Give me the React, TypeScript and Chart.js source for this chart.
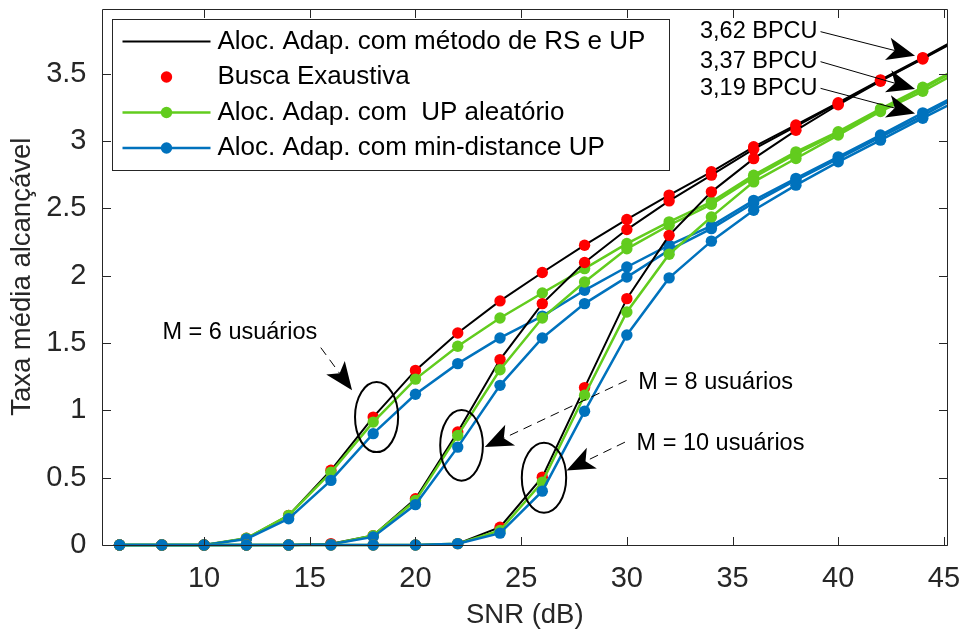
import React, { useEffect, useRef } from "react";
import { Chart, registerables } from "chart.js";

Chart.register(...registerables);

// SNR grid of the simulation (the last point lies past the axis limit and is clipped)
const snrDb = [6, 8, 10, 12, 14, 16, 18, 20, 22, 24, 26, 28, 30, 32, 34, 36, 38, 40, 42, 44, 46];

// M = 6 users
const rsUpM6 = [0, 0, 0, 0.05, 0.22, 0.555, 0.95, 1.297, 1.575, 1.813, 2.024, 2.227, 2.418, 2.599, 2.772, 2.958, 3.12, 3.285, 3.455, 3.62, 3.79];
const exhaustiveM6 = [0, 0, 0, 0.05, 0.22, 0.555, 0.95, 1.297, 1.575, 1.813, 2.024, 2.227, 2.418, 2.599, 2.772, 2.958, 3.12, 3.285, 3.455, 3.62, 3.79];
const randomUpM6 = [0, 0, 0, 0.05, 0.22, 0.54, 0.913, 1.232, 1.476, 1.686, 1.872, 2.053, 2.239, 2.4, 2.549, 2.747, 2.92, 3.07, 3.24, 3.4, 3.57];
const minDistUpM6 = [0, 0, 0, 0.045, 0.195, 0.48, 0.827, 1.12, 1.347, 1.538, 1.7, 1.892, 2.065, 2.227, 2.37, 2.56, 2.723, 2.883, 3.045, 3.21, 3.37];

// M = 8 users
const rsUpM8 = [0, 0, 0, 0, 0, 0.01, 0.07, 0.343, 0.839, 1.377, 1.793, 2.098, 2.343, 2.556, 2.747, 2.94, 3.11, 3.28, 3.45, 3.615, 3.785];
const exhaustiveM8 = [0, 0, 0, 0, 0, 0.01, 0.07, 0.343, 0.839, 1.377, 1.793, 2.098, 2.343, 2.556, 2.747, 2.94, 3.11, 3.28, 3.45, 3.615, 3.785];
const randomUpM8 = [0, 0, 0, 0, 0, 0.005, 0.07, 0.33, 0.814, 1.302, 1.686, 1.954, 2.2, 2.375, 2.53, 2.73, 2.905, 3.06, 3.23, 3.39, 3.56];
const minDistUpM8 = [0, 0, 0, 0, 0, 0.005, 0.06, 0.3, 0.727, 1.186, 1.538, 1.793, 1.99, 2.19, 2.35, 2.54, 2.71, 2.87, 3.03, 3.19, 3.36];

// M = 10 users
const rsUpM10 = [0, 0, 0, 0, 0, 0, 0, 0, 0.01, 0.132, 0.504, 1.169, 1.83, 2.3, 2.623, 2.87, 3.08, 3.27, 3.445, 3.61, 3.78];
const exhaustiveM10 = [0, 0, 0, 0, 0, 0, 0, 0, 0.01, 0.132, 0.504, 1.169, 1.83, 2.3, 2.623, 2.87, 3.08, 3.27, 3.445, 3.61, 3.78];
const randomUpM10 = [0, 0, 0, 0, 0, 0, 0, 0, 0.01, 0.108, 0.467, 1.112, 1.731, 2.16, 2.437, 2.697, 2.871, 3.045, 3.22, 3.37, 3.54];
const minDistUpM10 = [0, 0, 0, 0, 0, 0, 0, 0, 0.01, 0.088, 0.4, 0.993, 1.56, 1.984, 2.257, 2.487, 2.673, 2.846, 3.007, 3.17, 3.33];

const xTickValues = [10, 15, 20, 25, 30, 35, 40, 45];
const yTickValues = [0, 0.5, 1, 1.5, 2, 2.5, 3, 3.5];

const legendLabels = [
  "Aloc. Adap. com método de RS e UP",
  "Busca Exaustiva",
  "Aloc. Adap. com  UP aleatório",
  "Aloc. Adap. com min-distance UP",
];

// Callouts for each user group: text anchor, dashed arrow and ellipse (data units)
const groupNotes = [
  { text: "M = 6 usuários", textAt: [8.03, 1.575], from: [15.52, 1.466], to: [17.0, 1.149], ellipse: [18.16, 0.95, 1.02, 0.26] },
  { text: "M = 8 usuários", textAt: [30.54, 1.21], from: [29.99, 1.223], to: [23.28, 0.727], ellipse: [22.18, 0.74, 1.01, 0.262] },
  { text: "M = 10 usuários", textAt: [30.46, 0.752], from: [29.91, 0.764], to: [27.15, 0.554], ellipse: [26.08, 0.5, 1.05, 0.26] },
];

// Rate callouts at SNR = 44 dB
const rateNotes = [
  { textAt: [33.46, 3.813], snr: snrDb[19], value: rsUpM6[19] },
  { textAt: [33.46, 3.59], snr: snrDb[19], value: randomUpM10[19] },
  { textAt: [33.46, 3.392], snr: snrDb[19], value: minDistUpM8[19] },
];

const FONT = '"Liberation Sans", Arial, Helvetica, sans-serif';
const AXIS = "#262626";
const BLACK = "#000000";
const RED = "#FF0000";
const GREEN = "#62CC1E";
const BLUE = "#0072BD";

const groups = [
  { rs: rsUpM6, ex: exhaustiveM6, rnd: randomUpM6, md: minDistUpM6 },
  { rs: rsUpM8, ex: exhaustiveM8, rnd: randomUpM8, md: minDistUpM8 },
  { rs: rsUpM10, ex: exhaustiveM10, rnd: randomUpM10, md: minDistUpM10 },
];

const toPoints = (vals: number[]) => snrDb.map((x, i) => ({ x, y: vals[i] }));
const CLIP = { left: 10, top: 10, right: 0, bottom: 10 };

function buildDatasets() {
  const ds: any[] = [];
  groups.forEach((g) => {
    ds.push({ label: legendLabels[0], data: toPoints(g.rs), borderColor: BLACK, borderWidth: 2, pointRadius: 0, clip: CLIP });
    ds.push({ label: legendLabels[1], data: toPoints(g.ex), showLine: false, pointRadius: 5.7, pointBorderWidth: 0, pointBackgroundColor: RED, borderColor: RED, clip: CLIP });
    ds.push({ label: legendLabels[2], data: toPoints(g.rnd), borderColor: GREEN, borderWidth: 2.5, pointRadius: 5.7, pointBorderWidth: 0, pointBackgroundColor: GREEN, clip: CLIP });
    ds.push({ label: legendLabels[3], data: toPoints(g.md), borderColor: BLUE, borderWidth: 2.5, pointRadius: 5.7, pointBorderWidth: 0, pointBackgroundColor: BLUE, clip: CLIP });
  });
  ds.forEach((d, i) => {
    d.order = ds.length - i;
    d.tension = 0;
  });
  return ds;
}

function drawArrow(ctx: CanvasRenderingContext2D, fx: number, fy: number, tx: number, ty: number, dashed: boolean) {
  const L = 28;
  const W = 23;
  const notch = 0.75;
  const ang = Math.atan2(ty - fy, tx - fx);
  const c = Math.cos(ang);
  const s = Math.sin(ang);
  const tr = (u: number, v: number) => [tx + u * c - v * s, ty + u * s + v * c];
  const [nx, ny] = tr(-notch * L, 0);
  ctx.save();
  ctx.strokeStyle = BLACK;
  ctx.lineWidth = 1;
  if (dashed) ctx.setLineDash([9, 6]);
  ctx.beginPath();
  ctx.moveTo(fx, fy);
  ctx.lineTo(nx, ny);
  ctx.stroke();
  ctx.setLineDash([]);
  const p1 = tr(-L, W / 2);
  const p2 = tr(-L, -W / 2);
  ctx.fillStyle = BLACK;
  ctx.beginPath();
  ctx.moveTo(tx, ty);
  ctx.lineTo(p1[0], p1[1]);
  ctx.lineTo(nx, ny);
  ctx.lineTo(p2[0], p2[1]);
  ctx.closePath();
  ctx.fill();
  ctx.restore();
}

const overlayPlugin = {
  id: "overlay",
  afterDatasetsDraw(chart: any) {
    const { ctx, chartArea: a, scales } = chart;
    const xs = scales.x;
    const ys = scales.y;
    const px = (v: number) => xs.getPixelForValue(v);
    const py = (v: number) => ys.getPixelForValue(v);
    ctx.save();

    // axes box with inward ticks on all four sides
    ctx.strokeStyle = AXIS;
    ctx.lineWidth = 1;
    const L = Math.round(a.left) + 0.5;
    const R = Math.round(a.right) - 0.5;
    const T = Math.round(a.top) + 0.5;
    const B = Math.round(a.bottom) + 0.5;
    ctx.beginPath();
    ctx.rect(L, T, R - L, B - T);
    const tick = 8.5;
    xTickValues.forEach((v) => {
      const X = Math.round(px(v)) + 0.5;
      ctx.moveTo(X, B);
      ctx.lineTo(X, B - tick);
      ctx.moveTo(X, T);
      ctx.lineTo(X, T + tick);
    });
    yTickValues.forEach((v) => {
      const Y = Math.round(py(v)) + 0.5;
      ctx.moveTo(L, Y);
      ctx.lineTo(L + tick, Y);
      ctx.moveTo(R, Y);
      ctx.lineTo(R - tick, Y);
    });
    ctx.stroke();

    // user-group callouts
    ctx.fillStyle = BLACK;
    ctx.font = `23.5px ${FONT}`;
    ctx.textBaseline = "middle";
    ctx.textAlign = "left";
    groupNotes.forEach((n) => {
      const [ex, ey, erx, ery] = n.ellipse;
      const cx = px(ex);
      const cy = py(ey);
      const rx = Math.abs(px(ex + erx) - cx);
      const ry = Math.abs(py(ey + ery) - cy);
      ctx.save();
      ctx.strokeStyle = BLACK;
      ctx.lineWidth = 2;
      ctx.beginPath();
      ctx.ellipse(cx, cy, rx, ry, 0, 0, Math.PI * 2);
      ctx.stroke();
      ctx.restore();
      drawArrow(ctx, px(n.from[0]), py(n.from[1]), px(n.to[0]), py(n.to[1]), true);
      ctx.fillText(n.text, px(n.textAt[0]), py(n.textAt[1]));
    });

    // rate callouts pointing at the 44 dB markers
    ctx.font = `23.5px ${FONT}`;
    rateNotes.forEach((n) => {
      const label = `${n.value.toFixed(2).replace(".", ",")} BPCU`;
      const tx0 = px(n.textAt[0]);
      const ty0 = py(n.textAt[1]);
      ctx.fillText(label, tx0, ty0);
      const sx = tx0 + ctx.measureText(label).width + 3;
      const mx = px(n.snr);
      const my = py(n.value);
      const d = Math.hypot(mx - sx, my - ty0);
      const back = 8;
      const ex = mx - ((mx - sx) / d) * back;
      const ey = my - ((my - ty0) / d) * back;
      drawArrow(ctx, sx, ty0, ex, ey, false);
    });

    // legend box
    const lx = Math.round(a.left) + 10.5;
    const ly = Math.round(a.top) + 10.5;
    const lw = 557;
    const lh = 151;
    ctx.fillStyle = "#ffffff";
    ctx.fillRect(lx, ly, lw, lh);
    ctx.strokeStyle = AXIS;
    ctx.lineWidth = 1;
    ctx.strokeRect(lx, ly, lw, lh);
    const styles = [
      { color: BLACK, line: true, marker: false, width: 2 },
      { color: RED, line: false, marker: true, width: 0 },
      { color: GREEN, line: true, marker: true, width: 2.5 },
      { color: BLUE, line: true, marker: true, width: 2.5 },
    ];
    ctx.font = `26px ${FONT}`;
    ctx.textBaseline = "middle";
    legendLabels.forEach((lab, i) => {
      const rowY = ly + 22 + i * 35.5;
      const st = styles[i];
      if (st.line) {
        ctx.strokeStyle = st.color;
        ctx.lineWidth = st.width;
        ctx.beginPath();
        ctx.moveTo(lx + 10, rowY);
        ctx.lineTo(lx + 98, rowY);
        ctx.stroke();
      }
      if (st.marker) {
        ctx.fillStyle = st.color;
        ctx.beginPath();
        ctx.arc(lx + 54, rowY, 5.7, 0, Math.PI * 2);
        ctx.fill();
      }
      ctx.fillStyle = BLACK;
      ctx.fillText(lab, lx + 105, rowY);
    });

    ctx.restore();
  },
};

// keep the plot box fixed: no extra room reserved for edge tick labels
const noPadding = (s: any) => {
  s.paddingTop = 0;
  s.paddingBottom = 0;
  s.paddingLeft = 0;
  s.paddingRight = 0;
};

export default function App() {
  const canvasRef = useRef<HTMLCanvasElement | null>(null);

  useEffect(() => {
    const canvas = canvasRef.current;
    if (!canvas) return;
    const chart = new Chart(canvas, {
      type: "line",
      data: { datasets: buildDatasets() },
      options: {
        animation: false,
        responsive: false,
        devicePixelRatio: 1,
        layout: { padding: { top: 8.5, right: 15.5, left: 0, bottom: 0 } },
        plugins: { legend: { display: false }, tooltip: { enabled: false } },
        scales: {
          x: {
            type: "linear",
            min: 5.17,
            max: 45.17,
            grid: { display: false, drawTicks: false },
            border: { display: false },
            afterBuildTicks: (s: any) => {
              s.ticks = xTickValues.map((v) => ({ value: v }));
            },
            afterFit: (s: any) => {
              s.height = 89;
              noPadding(s);
            },
            ticks: {
              padding: 16.5,
              autoSkip: false,
              maxRotation: 0,
              color: AXIS,
              font: { family: FONT, size: 29 },
              callback: (v: any) => String(v),
            },
            title: {
              display: true,
              text: "SNR (dB)",
              color: AXIS,
              font: { family: FONT, size: 27.5 },
              padding: { top: 0, bottom: 2.5 },
            },
          },
          y: {
            type: "linear",
            min: 0,
            max: 3.985,
            grid: { display: false, drawTicks: false },
            border: { display: false },
            afterBuildTicks: (s: any) => {
              s.ticks = yTickValues.map((v) => ({ value: v }));
            },
            afterFit: (s: any) => {
              s.width = 102;
              noPadding(s);
            },
            ticks: {
              padding: 15.5,
              autoSkip: false,
              color: AXIS,
              font: { family: FONT, size: 29 },
              callback: (v: any) => String(v),
            },
            title: {
              display: true,
              text: "Taxa média alcançável",
              color: AXIS,
              font: { family: FONT, size: 27.5 },
              padding: { top: 5.5, bottom: 0 },
            },
          },
        },
      } as any,
      plugins: [overlayPlugin],
    });
    return () => chart.destroy();
  }, []);

  return (
    <div style={{ position: "fixed", left: 0, top: 0, width: 963, height: 634, background: "#ffffff" }}>
      <canvas ref={canvasRef} width={963} height={634} style={{ width: 963, height: 634, display: "block" }} />
    </div>
  );
}
